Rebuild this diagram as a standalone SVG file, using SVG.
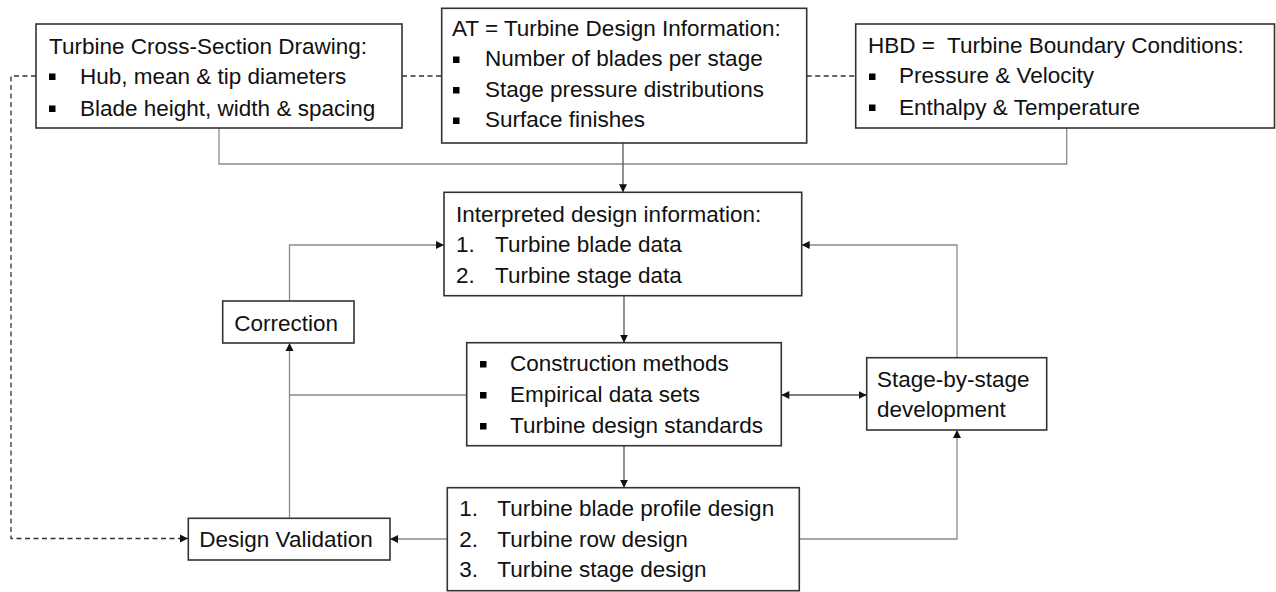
<svg xmlns="http://www.w3.org/2000/svg" width="1276" height="592" viewBox="0 0 1276 592">
<style>
  .box { fill: #ffffff; stroke: #333333; stroke-width: 1.6; }
  .t { font-family: "Liberation Sans", Arial, sans-serif; font-size: 22.5px; fill: #111111; }
  .bul { fill: #000000; }
  .gray { fill: none; stroke: #8a8a8a; stroke-width: 1.3; }
  .dark { fill: none; stroke: #555555; stroke-width: 1.3; }
  .dash { fill: none; stroke: #333333; stroke-width: 1.3; stroke-dasharray: 5 3.5; }
</style>
<defs>
  <marker id="ah" markerUnits="userSpaceOnUse" markerWidth="9" markerHeight="9" refX="8" refY="4.5" orient="auto">
    <path d="M0,0.5 L8,4.5 L0,8.5 Z" fill="#111111"/>
  </marker>
  <marker id="ahs" markerUnits="userSpaceOnUse" markerWidth="9" markerHeight="9" refX="0" refY="4.5" orient="auto">
    <path d="M8,0.5 L0,4.5 L8,8.5 Z" fill="#111111"/>
  </marker>
</defs>

<g id="connectors">
  <path class="dash" d="M36,76 H11 V538.5 H188" marker-end="url(#ah)"/>
  <path class="dash" d="M402,76 H441.7"/>
  <path class="dash" d="M806.7,76 H855.7"/>
  <path class="gray" d="M219,128 V164 H1066.7 V128"/>
  <path class="dark" d="M623,143 V192.3" marker-end="url(#ah)"/>
  <path class="gray" d="M289.5,301 V245 H444" marker-end="url(#ah)"/>
  <path class="gray" d="M957,357.7 V245 H801.7" marker-end="url(#ah)"/>
  <path class="dark" d="M624,295.7 V342.7" marker-end="url(#ah)"/>
  <path class="dark" d="M781.3,395 H866.7" marker-start="url(#ahs)" marker-end="url(#ah)"/>
  <path class="gray" d="M466.7,395 H289.5"/>
  <path class="gray" d="M289.5,518.3 V343" marker-end="url(#ah)"/>
  <path class="dark" d="M624,445.7 V487.7" marker-end="url(#ah)"/>
  <path class="gray" d="M447.3,539 H390" marker-end="url(#ah)"/>
  <path class="gray" d="M799.3,539 H957 V430" marker-end="url(#ah)"/>
</g>

<g id="cross-section">
  <rect class="box" x="36" y="24" width="366" height="104"/>
  <text class="t" x="49" y="54">Turbine Cross-Section Drawing:</text>
  <rect class="bul" x="49" y="73.5" width="6.5" height="6.5"/>
  <text class="t" x="80" y="84">Hub, mean &amp; tip diameters</text>
  <rect class="bul" x="49" y="105.5" width="6.5" height="6.5"/>
  <text class="t" x="80" y="116">Blade height, width &amp; spacing</text>
</g>

<g id="at">
  <rect class="box" x="441.7" y="8.3" width="365" height="134.7"/>
  <text class="t" x="452" y="36">AT = Turbine Design Information:</text>
  <rect class="bul" x="453" y="56.5" width="6.5" height="6.5"/>
  <text class="t" x="485" y="66">Number of blades per stage</text>
  <rect class="bul" x="453" y="87" width="6.5" height="6.5"/>
  <text class="t" x="485" y="96.5">Stage pressure distributions</text>
  <rect class="bul" x="453" y="117.5" width="6.5" height="6.5"/>
  <text class="t" x="485" y="127">Surface finishes</text>
</g>

<g id="hbd">
  <rect class="box" x="855.7" y="24" width="418.8" height="104"/>
  <text class="t" x="868" y="53">HBD =&#160; Turbine Boundary Conditions:</text>
  <rect class="bul" x="869" y="73.5" width="6.5" height="6.5"/>
  <text class="t" x="899" y="83">Pressure &amp; Velocity</text>
  <rect class="bul" x="869" y="104.5" width="6.5" height="6.5"/>
  <text class="t" x="899" y="115">Enthalpy &amp; Temperature</text>
</g>

<g id="interpreted">
  <rect class="box" x="444" y="192.3" width="357.7" height="103.4"/>
  <text class="t" x="456" y="221.7">Interpreted design information:</text>
  <text class="t" x="456" y="251.7">1.</text>
  <text class="t" x="495" y="251.7">Turbine blade data</text>
  <text class="t" x="456" y="282.7">2.</text>
  <text class="t" x="495" y="282.7">Turbine stage data</text>
</g>

<g id="correction">
  <rect class="box" x="222.7" y="301" width="131.3" height="42"/>
  <text class="t" x="234.3" y="330.7">Correction</text>
</g>

<g id="methods">
  <rect class="box" x="466.7" y="342.7" width="314.6" height="103"/>
  <rect class="bul" x="480" y="361" width="6.5" height="6.5"/>
  <text class="t" x="510" y="370.7">Construction methods</text>
  <rect class="bul" x="480" y="392" width="6.5" height="6.5"/>
  <text class="t" x="510" y="401.7">Empirical data sets</text>
  <rect class="bul" x="480" y="423" width="6.5" height="6.5"/>
  <text class="t" x="510" y="432.7">Turbine design standards</text>
</g>

<g id="stage-by-stage">
  <rect class="box" x="866.7" y="357.7" width="180" height="72.3"/>
  <text class="t" x="877" y="386.7">Stage-by-stage</text>
  <text class="t" x="877" y="417.3">development</text>
</g>

<g id="design">
  <rect class="box" x="447.3" y="487.7" width="352" height="103"/>
  <text class="t" x="459.3" y="516">1.</text>
  <text class="t" x="497.3" y="516">Turbine blade profile design</text>
  <text class="t" x="459.3" y="546.7">2.</text>
  <text class="t" x="497.3" y="546.7">Turbine row design</text>
  <text class="t" x="459.3" y="576.7">3.</text>
  <text class="t" x="497.3" y="576.7">Turbine stage design</text>
</g>

<g id="validation">
  <rect class="box" x="188.3" y="518.3" width="201.7" height="41.7"/>
  <text class="t" x="199.3" y="546.7">Design Validation</text>
</g>
</svg>
